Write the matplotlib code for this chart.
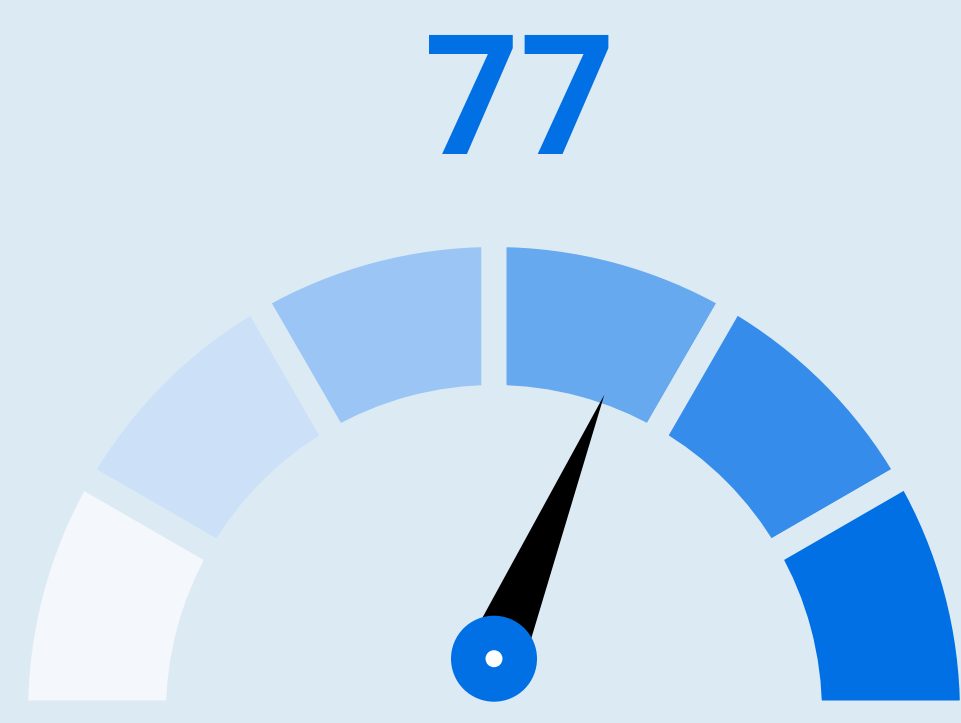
import numpy as np
import matplotlib.pyplot as plt
from matplotlib.patches import Wedge, Circle, Polygon

# gauge data
value = 77
scale_min = 0
scale_max = 123
band_count = 6
band_colors = ['#F4F8FD', '#CCE1F8', '#9AC5F4', '#67A9EE', '#368CEA', '#0070E4']

bg = '#DCEAF4'
W, H = 961, 723

fig = plt.figure(figsize=(W / 100, H / 100), dpi=100)
fig.patch.set_facecolor(bg)
ax = fig.add_axes([0, 0, 1, 1])
ax.set_xlim(0, W)
ax.set_ylim(0, H)
ax.set_aspect('equal')
ax.axis('off')
ax.set_facecolor(bg)

# arc centre (pixel space, y up)
cx, cy = 494, 10
r_out, r_w = 478.5, 163
gap_pt = 18  # 25 px stroke in background colour

for i in range(band_count):
    a0 = 180 - (i + 1) * 180 / band_count
    a1 = 180 - i * 180 / band_count
    ax.add_patch(Wedge((cx, cy), r_out, a0, a1, width=r_w,
                       facecolor=band_colors[i], edgecolor=bg,
                       linewidth=gap_pt, joinstyle='miter'))

# needle
hx, hy = 494, H - 658.7
frac = (value - scale_min) / (scale_max - scale_min)
ang = np.radians(180 - frac * 180)
length = 286
half = 30
u = np.array([np.cos(ang), np.sin(ang)])
n = np.array([-u[1], u[0]])
base = np.array([hx, hy])
tip = base + u * length
ax.add_patch(Polygon([base + n * half, tip, base - n * half],
                     closed=True, facecolor='black', edgecolor='none'))
ax.add_patch(Circle((hx, hy), 43, facecolor='#0070E4', edgecolor='none'))
ax.add_patch(Circle((hx, hy), 8.5, facecolor='white', edgecolor='none'))

ax.text(520, H - 109, str(value), ha='center', va='center',
        fontsize=120, fontweight='bold', family='Roboto', color='#0070E4')

fig.savefig('out.png', dpi=100, facecolor=bg)
